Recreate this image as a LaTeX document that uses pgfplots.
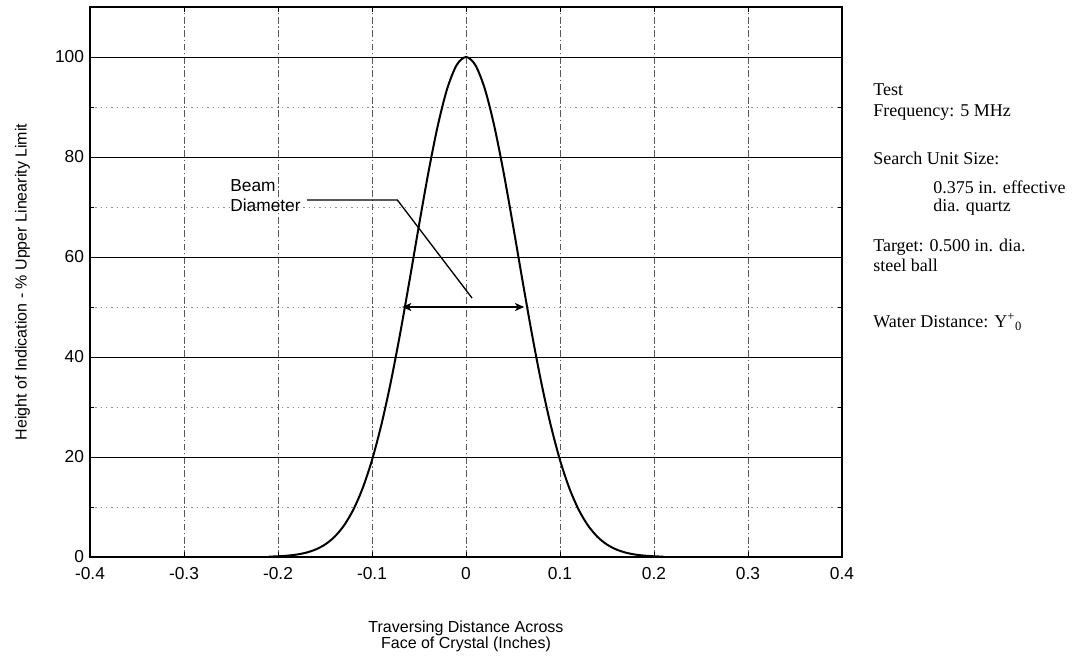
\documentclass[border=0pt]{standalone}
\usepackage{fontspec}
\setmainfont{Liberation Sans}
\newfontfamily\notefont{Liberation Serif}
\usepackage{pgfplots}
\pgfplotsset{compat=1.18}
\usetikzlibrary{arrows.meta}

\begin{document}
\begin{tikzpicture}
% page size: reference is 1077x657 px, 1px = 0.75pt, axis box 90..842 x 7..557
\path[use as bounding box] (-67.5pt,-75pt) rectangle (740.25pt,417.75pt);
\begin{axis}[
scale only axis,
width=564pt, height=412.5pt,
xmin=-0.4, xmax=0.4,
ymin=0, ymax=110,
xtick={-0.4,-0.3,-0.2,-0.1,0,0.1,0.2,0.3,0.4},
xticklabels={-0.4,-0.3,-0.2,-0.1,0,0.1,0.2,0.3,0.4},
ytick={0,20,40,60,80,100},
yticklabels={0,20,40,60,80,100},
minor ytick={10,30,50,70,90},
tick align=inside,
major tick length=4pt,
minor tick length=3pt,
tick style={black, line width=0.6pt},
xmajorgrids, ymajorgrids, yminorgrids,
major x grid style={black!65, line width=0.4pt, dash pattern=on 5pt off 2pt on 1pt off 2pt},
major y grid style={black, line width=0.7pt},
minor y grid style={black!45, line width=0.4pt, dash pattern=on 1pt off 3pt},
axis line style={line width=1.2pt},
tick label style={font=\fontsize{13}{15}\selectfont},
xticklabel style={yshift=-4pt},
yticklabel style={xshift=-1pt},
xlabel={Traversing Distance Across\\Face of Crystal (Inches)},
xlabel style={font=\fontsize{12}{12.5}\selectfont, align=center, yshift=-24pt},
ylabel={Height of Indication - \% Upper Linearity Limit},
ylabel style={font=\fontsize{12}{14}\selectfont, yshift=12pt},
clip=false,
]
% beam profile
\addplot[black, line width=1.5pt, smooth] coordinates {
(-0.21,0.07) (-0.20,0.14) (-0.19,0.27) (-0.18,0.49) (-0.17,0.87)
(-0.16,1.50) (-0.15,2.49) (-0.14,4.01) (-0.13,6.25) (-0.12,9.41)
(-0.11,13.73) (-0.10,19.38) (-0.09,26.47) (-0.08,34.99) (-0.07,44.75)
(-0.06,55.39) (-0.05,66.35) (-0.04,76.91) (-0.03,86.27) (-0.02,93.65)
(-0.01,98.37) (0,100)
(0.01,98.37) (0.02,93.65) (0.03,86.27) (0.04,76.91) (0.05,66.35)
(0.06,55.39) (0.07,44.75) (0.08,34.99) (0.09,26.47) (0.10,19.38)
(0.11,13.73) (0.12,9.41) (0.13,6.25) (0.14,4.01) (0.15,2.49)
(0.16,1.50) (0.17,0.87) (0.18,0.49) (0.19,0.27) (0.20,0.14) (0.21,0.07)
};
% beam diameter annotation
\draw[line width=1.2pt, {Stealth[length=7pt,width=6pt,inset=2pt]}-{Stealth[length=7pt,width=6pt,inset=2pt]}]
  (axis cs:-0.068,50) -- (axis cs:0.062,50);
\draw[line width=1pt] (axis cs:-0.169,71.4) -- (axis cs:-0.073,71.4) -- (axis cs:0.0064,51.8);
\node[anchor=west, align=left, font=\fontsize{13}{15}\selectfont, inner sep=0pt]
  at (axis cs:-0.251,72.2) {Beam\\Diameter};
% test conditions
\begin{scope}[every node/.style={anchor=west, inner sep=0pt, font=\notefont\fontsize{13.5}{15}\selectfont}]
\node at (axis cs:0.433,93.4) {Test};
\node at (axis cs:0.433,88.8) {Frequency: 5 MHz};
\node at (axis cs:0.433,79.8) {Search Unit Size:};
\node at (axis cs:0.497,74.0) {0.375 in. effective};
\node at (axis cs:0.497,70.0) {dia. quartz};
\node at (axis cs:0.433,62.0) {Target: 0.500 in. dia.};
\node at (axis cs:0.433,58.4) {steel ball};
\node at (axis cs:0.433,47.0) {Water Distance: Y\textsuperscript{+}\textsubscript{0}};
\end{scope}
\end{axis}
\end{tikzpicture}
\end{document}
